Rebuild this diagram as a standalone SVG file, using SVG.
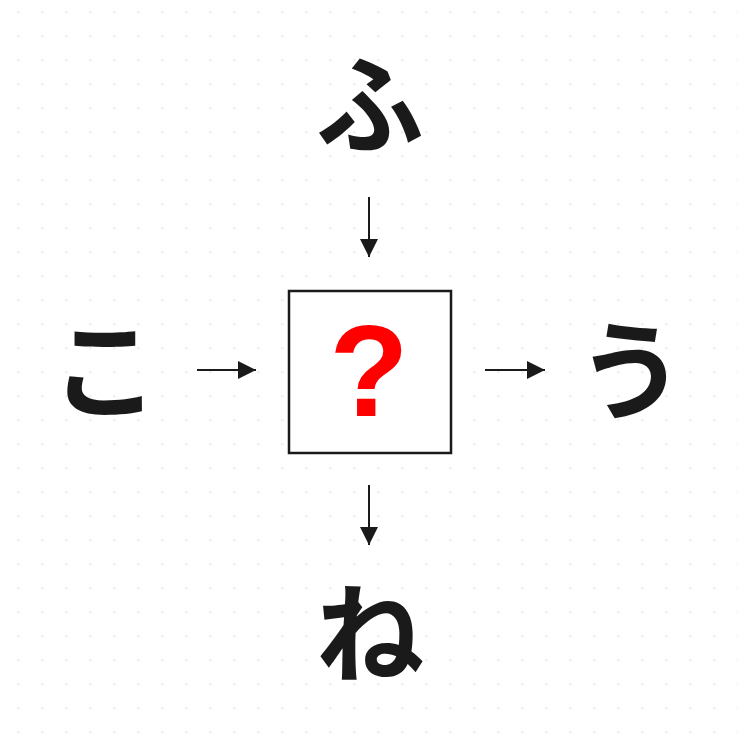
<svg xmlns="http://www.w3.org/2000/svg" width="738" height="738" viewBox="0 0 738 738">
<defs>
<pattern id="dots" x="0" y="0" width="24" height="24" patternUnits="userSpaceOnUse">
<rect x="17" y="11" width="2.5" height="2.5" fill="#f0f0f0"/>
</pattern>
<marker id="ah" viewBox="0 0 18 18" refX="18" refY="9" markerWidth="18" markerHeight="18" markerUnits="userSpaceOnUse" orient="auto">
<path d="M0,0 L18,9 L0,18 Z" fill="#1a1a1a"/>
</marker>
</defs>
<style>
.kana{font-family:"Noto Sans CJK JP","Noto Sans CJK SC",sans-serif;font-weight:bold;font-size:108px;fill:#1a1a1a;text-anchor:middle;dominant-baseline:central}
.conn line{stroke:#1a1a1a;stroke-width:2;marker-end:url(#ah)}
</style>
<rect width="738" height="738" fill="#ffffff"/>
<rect width="738" height="738" fill="url(#dots)"/>
<g id="node-top"><text class="kana" x="370" y="98">ふ</text></g>
<g id="node-left"><text class="kana" x="105" y="363">こ</text></g>
<g id="node-right"><text class="kana" x="631" y="364">う</text></g>
<g id="node-bottom"><text class="kana" x="370" y="627">ね</text></g>
<g id="node-center">
<rect x="289" y="291" width="162" height="162" fill="#ffffff" stroke="#1a1a1a" stroke-width="2.5"/>
<text x="369" y="416" font-family="Liberation Sans, Arial, sans-serif" font-weight="bold" font-size="130" fill="#ff0000" text-anchor="middle">?</text>
</g>
<g class="conn" id="connectors">
<line x1="369" y1="197" x2="369" y2="257"/>
<line x1="197" y1="370" x2="256" y2="370"/>
<line x1="485" y1="370" x2="545" y2="370"/>
<line x1="369" y1="485" x2="369" y2="545"/>
</g>
</svg>
